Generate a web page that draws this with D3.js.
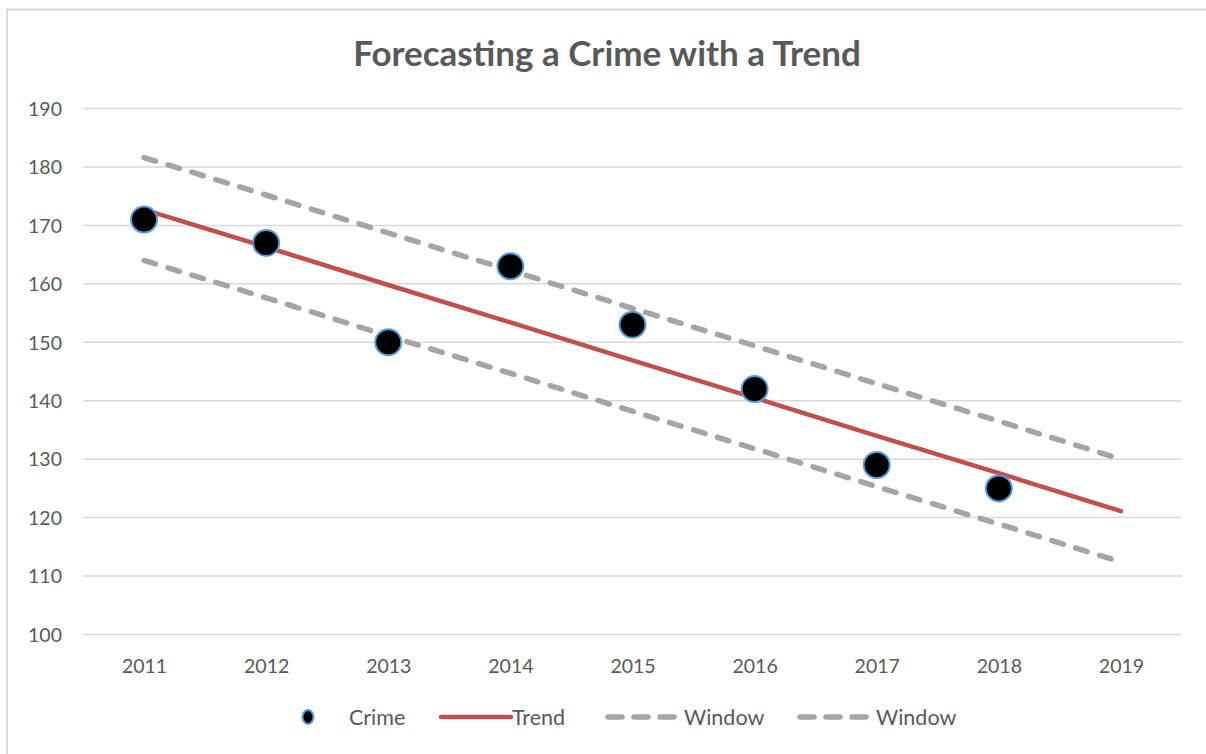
<!DOCTYPE html>
<html>
<head>
<meta charset="utf-8">
<script src="https://cdn.jsdelivr.net/npm/d3@7"></script>
<style>
  body { margin: 0; background: #fff; }
  svg { display: block; }
  text { font-family: Lato, "Open Sans", sans-serif; fill: #595959; }
</style>
</head>
<body>
<div id="chart"></div>
<script>
const years = ['2011', '2012', '2013', '2014', '2015', '2016', '2017', '2018', '2019']
const crime = [171, 167, 150, 163, 153, 142, 129, 125]
const trend = [172.7, 166.3, 159.8, 153.4, 146.9, 140.5, 134.0, 127.6, 121.1]
const upperWindow = [181.6, 175.2, 168.7, 162.3, 155.8, 149.4, 142.9, 136.5, 130.0]
const lowerWindow = [164.0, 157.6, 151.1, 144.7, 138.2, 131.8, 125.3, 118.9, 112.4]
const yTicks = [100, 110, 120, 130, 140, 150, 160, 170, 180, 190]

const width = 1206
const height = 754
const plotLeft = 83
const plotRight = 1182
const plotTop = 108.5
const plotBottom = 634.5

const svg = d3.select('#chart')
  .append('svg')
  .attr('width', width)
  .attr('height', height)

// chart frame (only left and top edges visible)
svg.append('path')
  .attr('d', `M7,${height} V9.5 H${width}`)
  .attr('fill', 'none')
  .attr('stroke', '#d9d9d9')
  .attr('stroke-width', 2)

const x = d3.scalePoint().domain(years).range([plotLeft, plotRight]).padding(0.5)
const y = d3.scaleLinear().domain([100, 190]).range([plotBottom, plotTop])

// title
svg.append('text')
  .attr('x', 607)
  .attr('y', 66)
  .attr('text-anchor', 'middle')
  .attr('font-size', 35)
  .attr('font-weight', 'bold')
  .text('Forecasting a Crime with a Trend')

// gridlines
svg.append('g')
  .selectAll('line')
  .data(yTicks)
  .enter()
  .append('line')
  .attr('x1', plotLeft)
  .attr('x2', plotRight)
  .attr('y1', d => y(d))
  .attr('y2', d => y(d))
  .attr('stroke', '#d9d9d9')
  .attr('stroke-width', 1.5)

// y labels
const yAxis = svg.append('g')
  .attr('transform', `translate(${plotLeft - 21},0)`)
  .call(d3.axisLeft(y).tickValues(yTicks).tickSize(0).tickPadding(0))
yAxis.select('.domain').remove()
yAxis.attr('font-family', null).attr('font-size', null)
yAxis.selectAll('text')
  .attr('font-size', 19.5)
  .attr('dy', '0.35em')

// x labels
const xAxis = svg.append('g')
  .attr('transform', `translate(0,${plotBottom})`)
  .call(d3.axisBottom(x).tickSize(0).tickPadding(0))
xAxis.select('.domain').remove()
xAxis.attr('font-family', null).attr('font-size', null)
xAxis.selectAll('text')
  .attr('font-size', 19.5)
  .attr('y', 38)
  .attr('dy', 0)

const line = d3.line()
  .x((d, i) => x(years[i]))
  .y(d => y(d))

const dashed = [upperWindow, lowerWindow]
svg.append('g')
  .selectAll('path')
  .data(dashed)
  .enter()
  .append('path')
  .attr('d', line)
  .attr('fill', 'none')
  .attr('stroke', '#a5a5a5')
  .attr('stroke-width', 5.5)
  .attr('stroke-linecap', 'round')
  .attr('stroke-dasharray', '12,13')

svg.append('path')
  .datum(trend)
  .attr('d', line)
  .attr('fill', 'none')
  .attr('stroke', '#c0504d')
  .attr('stroke-width', 4.5)
  .attr('stroke-linecap', 'round')

svg.append('g')
  .selectAll('circle')
  .data(crime)
  .enter()
  .append('circle')
  .attr('cx', (d, i) => x(years[i]))
  .attr('cy', d => y(d))
  .attr('r', 13)
  .attr('fill', '#000')
  .attr('stroke', '#5b9bd5')
  .attr('stroke-width', 2)

// legend
const legendY = 717
const legend = svg.append('g')

legend.append('ellipse')
  .attr('cx', 308)
  .attr('cy', legendY)
  .attr('rx', 5.5)
  .attr('ry', 7)
  .attr('fill', '#000')
  .attr('stroke', '#5b9bd5')
  .attr('stroke-width', 2)

const legendItems = [
  { label: 'Crime', x: 349 },
  { label: 'Trend', x: 512 },
  { label: 'Window', x: 684 },
  { label: 'Window', x: 876 }
]

legend.append('line')
  .attr('x1', 441).attr('x2', 511)
  .attr('y1', legendY).attr('y2', legendY)
  .attr('stroke', '#c0504d')
  .attr('stroke-width', 4.5)
  .attr('stroke-linecap', 'round')

legend.selectAll('line.win')
  .data([608, 800])
  .enter()
  .append('line')
  .attr('class', 'win')
  .attr('x1', d => d).attr('x2', d => d + 68)
  .attr('y1', legendY).attr('y2', legendY)
  .attr('stroke', '#a5a5a5')
  .attr('stroke-width', 5.5)
  .attr('stroke-linecap', 'round')
  .attr('stroke-dasharray', '14,12')

legend.selectAll('text')
  .data(legendItems)
  .enter()
  .append('text')
  .attr('x', d => d.x)
  .attr('y', legendY)
  .attr('dy', '0.35em')
  .attr('font-size', 21.5)
  .text(d => d.label)
</script>
</body>
</html>
